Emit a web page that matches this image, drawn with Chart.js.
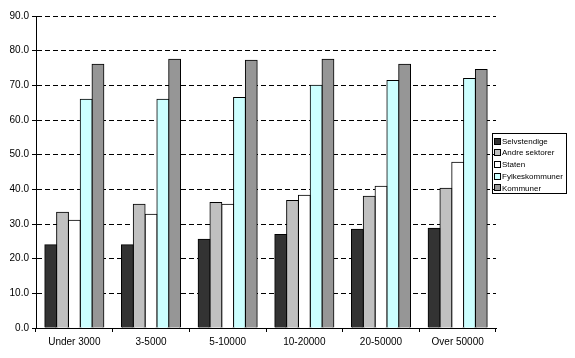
<!DOCTYPE html>
<html>
<head>
<meta charset="utf-8">
<script src="https://cdn.jsdelivr.net/npm/chart.js@4/dist/chart.umd.min.js"></script>
<style>
    html, body { margin: 0; padding: 0; background: #fff; }
    #wrap { width: 575px; height: 358px; }
</style>
</head>
<body>
<div id="wrap"><canvas id="myChart" width="575" height="358"></canvas></div>
<script>
// data
const categories = ['Under 3000', '3-5000', '5-10000', '10-20000', '20-50000', 'Over 50000'];
const seriesNames = ['Selvstendige', 'Andre sektorer', 'Staten', 'Fylkeskommuner', 'Kommuner'];
const selvstendige = [24.0, 24.0, 25.6, 27.0, 28.5, 28.8];
const andreSektorer = [33.4, 35.7, 36.2, 36.8, 38.0, 40.3];
const staten = [31.1, 32.8, 35.7, 38.3, 40.9, 47.8];
const fylkeskommuner = [66.0, 66.0, 66.5, 70.0, 71.4, 72.0];
const kommuner = [76.1, 77.5, 77.2, 77.5, 76.1, 74.6];
const yTicks = [0, 10, 20, 30, 40, 50, 60, 70, 80, 90];

const seriesValues = [selvstendige, andreSektorer, staten, fylkeskommuner, kommuner];
const seriesColors = ['#333333', '#c0c0c0', '#ffffff', '#ccffff', '#969696'];

const font = { family: '"Liberation Sans", Arial, sans-serif', size: 10 };

// legend box on the right, drawn from the datasets
const boxLegend = {
    id: 'boxLegend',
    afterDraw(chart) {
        const ctx = chart.ctx;
        const x = 492, y = 133, w = 74, h = 60;
        ctx.save();
        ctx.strokeStyle = '#000';
        ctx.lineWidth = 1;
        ctx.strokeRect(x + 0.5, y + 0.5, w, h);
        ctx.font = '8px "Liberation Sans", Arial, sans-serif';
        ctx.textBaseline = 'middle';
        chart.data.datasets.forEach((ds, i) => {
            const cy = y + 8.5 + i * 11.7;
            const by = Math.round(cy - 3);
            ctx.fillStyle = ds.backgroundColor;
            ctx.fillRect(x + 3, by, 5, 5);
            ctx.strokeRect(x + 2.5, by - 0.5, 6, 6);
            ctx.fillStyle = '#000';
            ctx.fillText(ds.label, x + 10, cy);
        });
        ctx.restore();
    }
};

const ctx = document.getElementById('myChart').getContext('2d');

const myChart = new Chart(ctx, {
    type: 'bar',
    data: {
        labels: categories,
        datasets: seriesNames.map((name, i) => ({
            label: name,
            data: seriesValues[i],
            backgroundColor: seriesColors[i],
            borderColor: '#000000',
            borderWidth: 1,
            borderSkipped: 'bottom',
            inflateAmount: 0.5,
            categoryPercentage: 0.77,
            barPercentage: 1.0,
        }))
    },
    options: {
        responsive: false,
        animation: false,
        layout: {
            padding: { left: 0, right: 79, top: 16, bottom: 0 }
        },
        plugins: {
            legend: { display: false },
            tooltip: { enabled: false },
        },
        scales: {
            y: {
                min: 0,
                max: 90,
                afterFit: (scale) => { scale.width = 36; },
                afterBuildTicks: (scale) => { scale.ticks = yTicks.map(v => ({ value: v })); },
                ticks: {
                    color: '#000',
                    font: font,
                    padding: 3,
                    callback: (v) => Number(v).toFixed(1),
                },
                grid: {
                    color: '#000',
                    lineWidth: 1,
                    tickLength: 4,
                    tickColor: '#000',
                    tickBorderDash: [],
                },
                border: {
                    display: true,
                    color: '#000',
                    width: 1,
                    dash: [5, 3],
                }
            },
            x: {
                afterFit: (scale) => { scale.height = 30; },
                ticks: {
                    color: '#000',
                    font: font,
                    padding: 4,
                    maxRotation: 0,
                },
                grid: {
                    offset: true,
                    drawOnChartArea: false,
                    drawTicks: true,
                    tickLength: 4,
                    tickColor: '#000',
                },
                border: {
                    display: true,
                    color: '#000',
                    width: 1,
                }
            }
        }
    },
    plugins: [boxLegend]
});
</script>
</body>
</html>
